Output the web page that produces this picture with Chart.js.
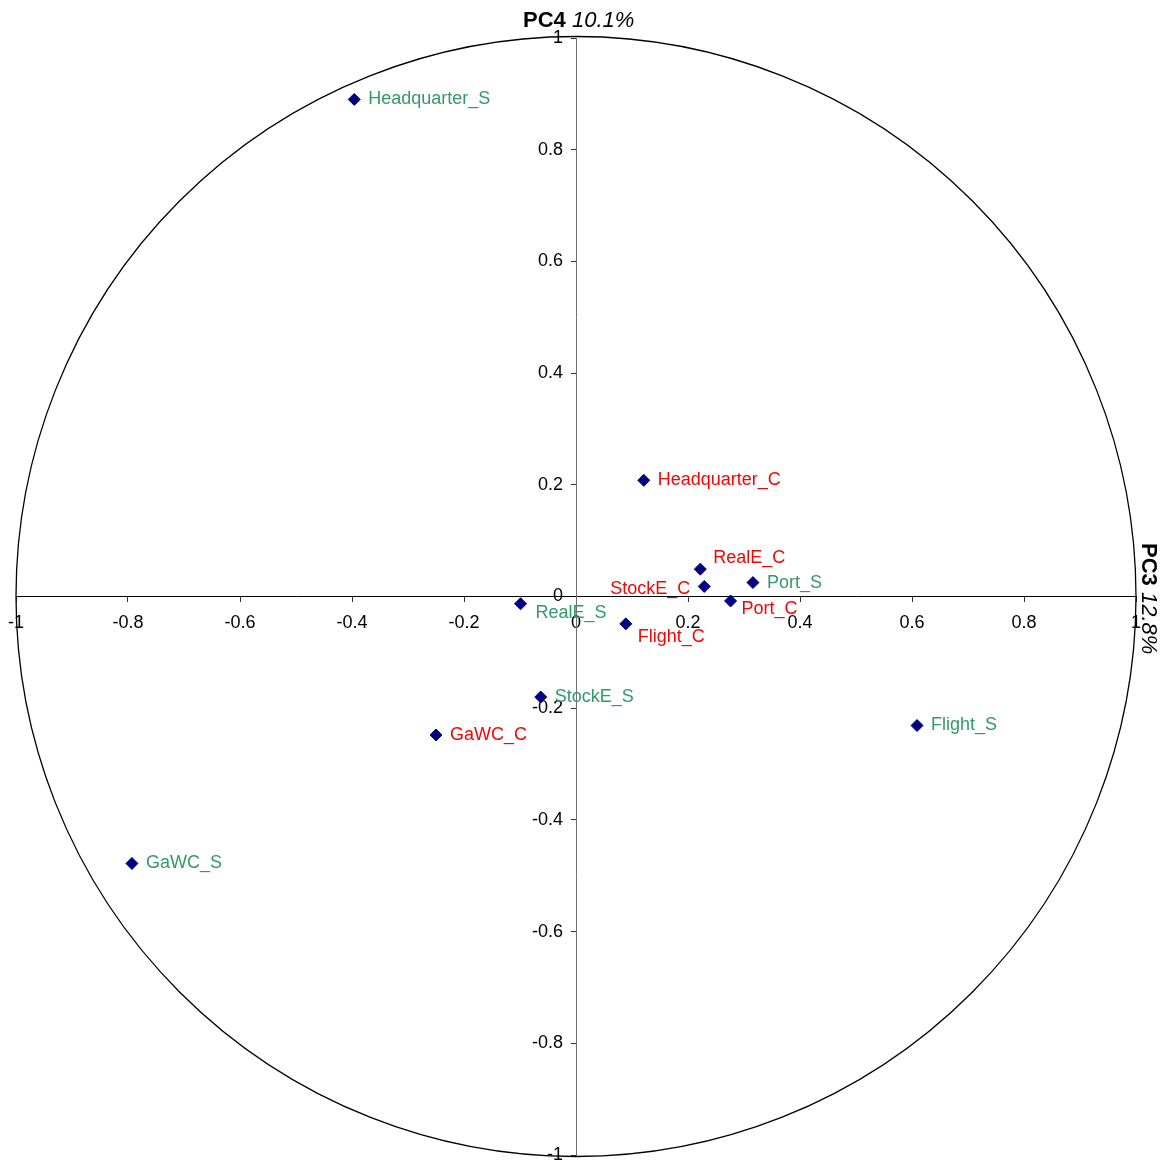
<!DOCTYPE html>
<html>
<head>
<meta charset="utf-8">
<script src="https://cdn.jsdelivr.net/npm/chart.js@4.4.1/dist/chart.umd.min.js"></script>
<style>
  html, body { margin: 0; padding: 0; background: #fff; overflow: hidden; }
</style>
</head>
<body>
<canvas id="pcaCircle" width="1165" height="1162"></canvas>
<script>
// variable names and their loadings on PC3 (x) / PC4 (y)
const varNames = [
  "Headquarter_S", "Headquarter_C", "RealE_C", "StockE_C", "Port_S", "Port_C",
  "RealE_S", "Flight_C", "StockE_S", "GaWC_C", "GaWC_S", "Flight_S",
];
const pc3 = [-0.396, 0.121, 0.222, 0.229, 0.316, 0.276, -0.099, 0.089, -0.063, -0.250, -0.793, 0.609];
const pc4 = [0.890, 0.208, 0.049, 0.018, 0.025, -0.008, -0.013, -0.049, -0.180, -0.248, -0.478, -0.231];

const tickValues = [-1, -0.8, -0.6, -0.4, -0.2, 0, 0.2, 0.4, 0.6, 0.8, 1];
const tickLabels = ["-1", "-0.8", "-0.6", "-0.4", "-0.2", "0", "0.2", "0.4", "0.6", "0.8", "1"];

const xTitle = ["PC3", "12.8%"];
const yTitle = ["PC4", "10.1%"];

const FONT = "'Liberation Sans', Arial, sans-serif";
const RED = "#ff0000";
const GREEN = "#339966";

// where a label sits next to its point (default: right of it)
const labelPlace = {
  RealE_C: { dx: 13, dy: -11, align: "left" },
  StockE_C: { dx: -14, dy: 3, align: "right" },
  Port_C: { dx: 11, dy: 8, align: "left" },
  RealE_S: { dx: 15, dy: 9, align: "left" },
  Flight_C: { dx: 12, dy: 13, align: "left" },
};

const points = varNames.map((n, i) => ({ x: pc3[i], y: pc4[i] }));

// unit circle, y tick labels, point labels, axis titles
const circlePlugin = {
  id: "circlePlugin",
  beforeDatasetsDraw(chart) {
    const { ctx, scales } = chart;
    const cx = scales.x.getPixelForValue(0);
    const cy = scales.y.getPixelForValue(0);
    const r = scales.x.getPixelForValue(1) - cx;
    ctx.save();
    ctx.beginPath();
    ctx.arc(cx, cy, r, 0, Math.PI * 2);
    ctx.strokeStyle = "#000";
    ctx.lineWidth = 1.3;
    ctx.stroke();

    // y tick labels sit left of the centred axis
    ctx.font = "18px " + FONT;
    ctx.fillStyle = "#000";
    ctx.textAlign = "right";
    ctx.textBaseline = "middle";
    tickValues.forEach((v, i) => {
      ctx.fillText(tickLabels[i], cx - 13, scales.y.getPixelForValue(v));
    });
    ctx.restore();
  },
  afterDatasetsDraw(chart) {
    const { ctx, scales } = chart;
    ctx.save();
    ctx.font = "18px " + FONT;
    ctx.textBaseline = "middle";
    varNames.forEach((name, i) => {
      const px = scales.x.getPixelForValue(pc3[i]);
      const py = scales.y.getPixelForValue(pc4[i]);
      const p = labelPlace[name] || { dx: 14, dy: 0, align: "left" };
      ctx.fillStyle = name.endsWith("_C") ? RED : GREEN;
      ctx.textAlign = p.align;
      ctx.fillText(name, px + p.dx, py + p.dy);
    });
    ctx.restore();
  },
  afterDraw(chart) {
    const { ctx } = chart;
    ctx.save();
    ctx.fillStyle = "#000";
    ctx.textBaseline = "alphabetic";
    ctx.textAlign = "left";
    // top title (PC4)
    ctx.font = "bold 22px " + FONT;
    let w = ctx.measureText(yTitle[0] + " ").width;
    ctx.fillText(yTitle[0], 523, 27);
    ctx.font = "italic 22px " + FONT;
    ctx.fillText(yTitle[1], 523 + w, 27);
    // right title (PC3), rotated clockwise
    ctx.translate(1142, 543);
    ctx.rotate(Math.PI / 2);
    ctx.font = "bold 22px " + FONT;
    w = ctx.measureText(xTitle[0] + " ").width;
    ctx.fillText(xTitle[0], 0, 0);
    ctx.font = "italic 22px " + FONT;
    ctx.fillText(xTitle[1], w, 0);
    ctx.restore();
  },
};

function axisOpts(pos, borderColor, showLabels) {
  return {
    type: "linear",
    position: pos,
    min: -1,
    max: 1,
    afterBuildTicks: (axis) => {
      axis.ticks = tickValues.map((v) => ({ value: v }));
    },
    afterFit: (axis) => {
      axis.paddingTop = 0;
      axis.paddingBottom = 0;
      axis.paddingLeft = 0;
      axis.paddingRight = 0;
    },
    ticks: {
      display: showLabels,
      color: "#000",
      font: { family: FONT, size: 18 },
      padding: 11,
      maxRotation: 0,
      autoSkip: false,
      callback: (v) => tickLabels[tickValues.indexOf(v)] ?? "",
    },
    grid: {
      drawOnChartArea: false,
      drawTicks: true,
      tickLength: 5,
      tickColor: "#333",
    },
    border: { display: true, color: borderColor, width: 1 },
  };
}

new Chart(document.getElementById("pcaCircle").getContext("2d"), {
  type: "scatter",
  data: {
    datasets: [
      {
        label: "Variables",
        data: points,
        pointStyle: "rectRot",
        pointRadius: 6,
        pointHoverRadius: 6,
        backgroundColor: "#000080",
        borderColor: "#000080",
        borderWidth: 1,
      },
    ],
  },
  options: {
    responsive: false,
    animation: false,
    devicePixelRatio: 1,
    layout: { padding: { left: 16, right: 29, top: 38, bottom: 5 } },
    scales: {
      x: axisOpts({ y: 0 }, "#000", true),
      y: axisOpts({ x: 0 }, "#6e6e6e", false),
    },
    plugins: {
      legend: { display: false },
      tooltip: { enabled: false },
    },
  },
  plugins: [circlePlugin],
});
</script>
</body>
</html>
